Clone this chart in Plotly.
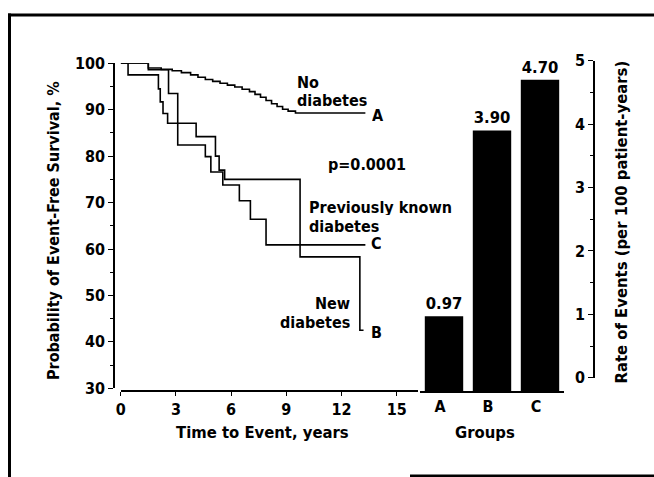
import plotly.graph_objects as go

# ---- data ----
# Kaplan-Meier event-free survival (%) by time (years), step change points
time_A = [0, 1.5, 2.2, 2.8, 3.3, 3.8, 4.2, 4.6, 5.0, 5.4, 5.8, 6.2, 6.6, 7.0,
          7.3, 7.6, 7.9, 8.2, 8.5, 8.8, 9.1, 9.5, 13.3]
surv_A = [100, 99.0, 98.7, 98.4, 98.0, 97.5, 97.0, 96.5, 96.1, 95.7, 95.3, 94.9,
          94.4, 93.9, 93.3, 92.7, 92.0, 91.3, 90.7, 90.1, 89.7, 89.3, 89.3]
time_B = [0, 0.4, 2.05, 2.15, 2.3, 2.55, 4.1, 5.15, 5.35, 5.65, 9.75, 13.0, 13.2]
surv_B = [100, 97.5, 94.5, 91.7, 89.2, 87.1, 84.2, 80.0, 77.0, 75.0, 58.3, 42.5, 42.5]
time_C = [0, 1.5, 2.6, 3.1, 4.6, 4.9, 5.55, 6.45, 7.05, 7.9, 13.3]
surv_C = [100, 98.6, 93.5, 82.4, 79.9, 76.6, 73.8, 70.4, 66.4, 60.9, 60.9]

groups = ["A", "B", "C"]
event_rates = [0.97, 3.90, 4.70]

time_ticks = [0, 3, 6, 9, 12, 15]
surv_ticks = [30, 40, 50, 60, 70, 80, 90, 100]
rate_ticks = [0, 1, 2, 3, 4, 5]

# ---- geometry (pixels) ----
W, H = 654, 477
L, R, T, B = 114, 60, 60, 86
PW, PH = W - L - R, H - T - B


def px_x(px):
    return (px - L) / PW


def px_y(py):
    return (H - B - py) / PH


FONT = "DejaVu Sans Condensed"
WEIGHT = "bold"
BLACK = "black"
bar_base = -0.21


def fnt(size):
    return dict(family=FONT, size=size, color=BLACK, weight=WEIGHT)


fig = go.Figure()

line_style = dict(shape="hv", color=BLACK, width=1.6)
for tx, sy in [(time_A, surv_A), (time_B, surv_B), (time_C, surv_C)]:
    fig.add_trace(go.Scatter(x=tx, y=sy, mode="lines", line=line_style,
                             showlegend=False, hoverinfo="skip",
                             xaxis="x", yaxis="y"))

fig.add_trace(go.Bar(
    x=groups, y=[v - bar_base for v in event_rates], base=bar_base,
    width=0.8, marker=dict(color=BLACK, line=dict(width=0)),
    text=[f"{v:.2f}" for v in event_rates], textposition="outside",
    textfont=fnt(16.5), cliponaxis=False,
    showlegend=False, hoverinfo="skip", xaxis="x2", yaxis="y3"))

# dummy trace so the visible right axis gets drawn
fig.add_trace(go.Scatter(x=[None], y=[None], xaxis="x2", yaxis="y2",
                         showlegend=False, hoverinfo="skip"))

axis_common = dict(showgrid=False, zeroline=False, showline=True,
                   linecolor=BLACK, linewidth=1.6, tickcolor=BLACK,
                   tickwidth=1.4, tickfont=fnt(16))

fig.update_layout(
    width=W, height=H, autosize=False,
    margin=dict(l=L, r=R, t=T, b=B),
    paper_bgcolor="white", plot_bgcolor="white",
    font=dict(family=FONT, color=BLACK),
    bargap=0.2,
    xaxis=dict(domain=[px_x(120.7), px_x(418)], range=[0, 16.16],
               anchor="free", position=0, tickvals=time_ticks,
               ticks="outside", ticklen=4, **axis_common),
    yaxis=dict(domain=[px_y(388.3), px_y(63.3)], range=[30, 100],
               anchor="free", position=0, tickvals=surv_ticks,
               ticks="outside", ticklen=5,
               minor=dict(dtick=5, ticks="outside", ticklen=3,
                          tickcolor=BLACK, tickwidth=1.2),
               **axis_common),
    xaxis2=dict(domain=[px_x(420), px_x(564)], range=[-0.5, 2.5],
                type="category", anchor="y3", ticks="",
                ticklabelshift=-4, **axis_common),
    yaxis3=dict(domain=[0, 1], range=[bar_base, 5.011], anchor="x2",
                visible=False),
    yaxis2=dict(domain=[px_y(377.7), px_y(60.7)], range=[0, 5],
                anchor="free", position=1, side="left",
                tickvals=rate_ticks, ticks="outside", ticklen=5,
                minor=dict(dtick=0.5, ticks="outside", ticklen=3,
                           tickcolor=BLACK, tickwidth=1.2),
                **axis_common),
)


def add_text(text, x, y, xref="x", yref="y", xanchor="center", angle=0,
             size=16, height=None):
    fig.add_annotation(text=text, x=x, y=y, xref=xref, yref=yref,
                       xanchor=xanchor, yanchor="middle", showarrow=False,
                       font=fnt(size), textangle=angle, height=height)


# curve labels (data coordinates)
add_text("No", 9.48, 96.0, xanchor="left", height=16)
add_text("diabetes", 9.48, 92.1, xanchor="left", height=16)
add_text("A", 14.0, 88.9, height=16)
add_text("p=0.0001", 11.16, 78.1, xanchor="left")
add_text("Previously known", 10.15, 69.1, xanchor="left", height=16)
add_text("diabetes", 10.15, 65.0, xanchor="left", height=16)
add_text("C", 13.93, 61.2, height=16)
add_text("New", 12.57, 48.4, xanchor="right", height=16)
add_text("diabetes", 12.57, 44.3, xanchor="right", height=16)
add_text("B", 13.93, 42.2, height=16)

# axis titles (paper coordinates)
add_text("Time to Event, years", px_x(262.7), px_y(432.7), "paper", "paper", size=16.5)
add_text("Groups", px_x(485), px_y(432.7), "paper", "paper", size=16.5)
add_text("Probability of Event-Free Survival, %", px_x(53), px_y(231),
         "paper", "paper", angle=-90, size=16)
add_text("Rate of Events (per 100 patient-years)", px_x(621), px_y(222.5),
         "paper", "paper", angle=-90, size=16.5)

# frame around the figure
frame = dict(type="line", xref="paper", yref="paper",
             line=dict(color=BLACK, width=3))
fig.add_shape(x0=px_x(8), x1=px_x(W + 5), y0=px_y(15), y1=px_y(15), **frame)
fig.add_shape(x0=px_x(9.5), x1=px_x(9.5), y0=px_y(13.5), y1=px_y(H + 5), **frame)
fig.add_shape(x0=px_x(410), x1=px_x(W + 5), y0=px_y(476), y1=px_y(476), **frame)

fig.write_html("out.html", config={"displayModeBar": False},
               post_script="document.body.style.margin='0px';"
                           "document.body.style.overflow='hidden';")
